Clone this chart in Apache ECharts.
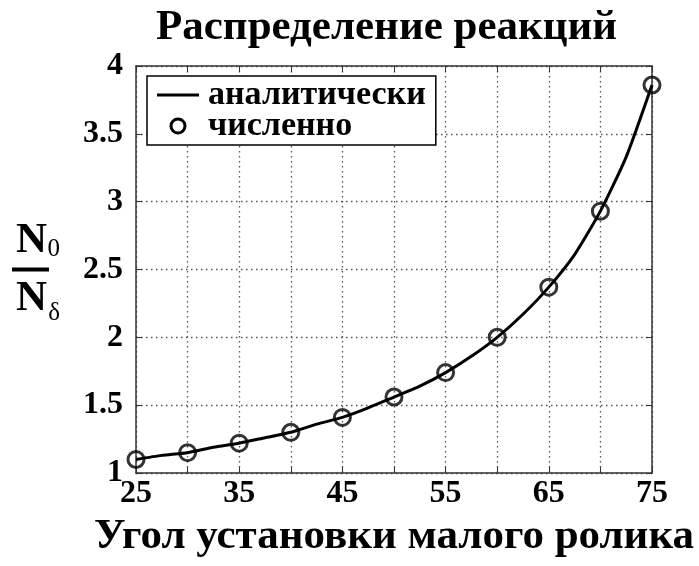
<!DOCTYPE html>
<html>
<head>
<meta charset="utf-8">
<script src="https://cdn.jsdelivr.net/npm/echarts@6/dist/echarts.min.js"></script>
<style>
  html, body { margin: 0; padding: 0; background: #fff; }
  #main { width: 699px; height: 566px; }
</style>
</head>
<body>
<div id="main"></div>
<script>
// углы (град) и отношение N0/Nδ
var anglesNum = [25, 30, 35, 40, 45, 50, 55, 60, 65, 70, 75];
var valuesNum = [1.10, 1.15, 1.22, 1.30, 1.41, 1.56, 1.74, 2.00, 2.37, 2.93, 3.86];
var anglesAn = [25, 27.5, 30, 32.5, 35, 37.5, 40, 42.5, 45, 47.5, 50, 52.5, 55, 57.5, 60, 62.5, 65, 67.5, 70, 72.5, 75];
var valuesAn = [1.10, 1.13, 1.15, 1.19, 1.22, 1.26, 1.30, 1.36, 1.41, 1.48, 1.56, 1.64, 1.74, 1.86, 2.00, 2.17, 2.37, 2.61, 2.93, 3.33, 3.86];
var xTicks = [25, 35, 45, 55, 65, 75];
var seriesNames = ['аналитически', 'численно'];

(function () {
  var dom = document.getElementById('main');
  var myChart = echarts.init(dom);
  var serif = "'Liberation Serif', 'Times New Roman', serif";
  var axisCol = '#333';

  function pairs(xs, ys) {
    var out = [];
    for (var i = 0; i < xs.length; i++) out.push([xs[i], ys[i]]);
    return out;
  }

  var gridDot = { show: true, lineStyle: { color: '#555', width: 1.3, type: [1.5, 3.5] } };

  var option = {
    backgroundColor: '#fff',
    animation: false,
    title: {
      text: 'Распределение реакций',
      left: 151,
      top: 1,
      textStyle: { fontFamily: serif, fontWeight: 'bold', fontSize: 43, color: '#000' }
    },
    legend: {
      orient: 'vertical',
      left: 147,
      top: 76,
      padding: [2, 10, 2, 10],
      itemGap: -3,
      itemWidth: 42,
      itemHeight: 14,
      borderColor: '#000',
      borderWidth: 1.5,
      backgroundColor: '#fff',
      data: [
        { name: seriesNames[0], icon: 'path://M0,0H42V3H0Z', itemStyle: { color: '#000' } },
        { name: seriesNames[1], icon: 'circle', itemStyle: { color: 'rgba(0,0,0,0)', borderColor: '#000', borderWidth: 3, opacity: 1 } }
      ],
      textStyle: { fontFamily: serif, fontWeight: 'bold', fontSize: 34, color: '#000', lineHeight: 26, padding: [0, 0, 0, 4] }
    },
    grid: { left: 136, right: 47, top: 66, bottom: 93 },
    xAxis: [
      {
        type: 'value',
        min: 25, max: 75, interval: 5,
        name: 'Угол установки малого ролика',
        nameLocation: 'middle',
        nameGap: 39,
        nameTextStyle: { fontFamily: serif, fontWeight: 'bold', fontSize: 43, color: '#000' },
        axisLine: { lineStyle: { color: axisCol, width: 1.5 } },
        axisTick: { inside: true, length: 6, lineStyle: { color: axisCol } },
        axisLabel: {
          margin: 5,
          fontFamily: serif, fontWeight: 'bold', fontSize: 32, color: '#000',
          formatter: function (v) { return xTicks.indexOf(v) >= 0 ? String(v) : ''; }
        },
        splitLine: gridDot
      },
      {
        type: 'value', position: 'top',
        min: 25, max: 75, interval: 5,
        axisLine: { lineStyle: { color: axisCol, width: 1.5 } },
        axisTick: { inside: true, length: 6, lineStyle: { color: axisCol } },
        axisLabel: { show: false },
        splitLine: { show: false }
      }
    ],
    yAxis: [
      {
        type: 'value',
        min: 1, max: 4, interval: 0.5,
        name: '{n|N}{s|0}\n{bar| }{sp| }\n{n|N}{d|δ}',
        nameLocation: 'middle',
        nameRotate: 0,
        nameGap: 76,
        nameTextStyle: {
          align: 'right',
          rich: {
            n: { fontFamily: serif, fontWeight: 'bold', fontSize: 43, color: '#000', lineHeight: 42, width: 32 },
            s: { fontFamily: serif, fontSize: 25, color: '#000', lineHeight: 42, width: 13, verticalAlign: 'bottom' },
            d: { fontFamily: serif, fontSize: 25, color: '#000', lineHeight: 42, width: 13, verticalAlign: 'bottom', padding: [0, 0, -6, 0] },
            bar: { width: 37, height: 4, lineHeight: 16, backgroundColor: '#000' },
            sp: { width: 11, lineHeight: 16 }
          }
        },
        axisLine: { lineStyle: { color: axisCol, width: 1.5 } },
        axisTick: { inside: true, length: 6, lineStyle: { color: axisCol } },
        axisLabel: { margin: 13, fontFamily: serif, fontWeight: 'bold', fontSize: 32, color: '#000' },
        splitLine: gridDot
      },
      {
        type: 'value', position: 'right',
        min: 1, max: 4, interval: 0.5,
        axisLine: { show: true, lineStyle: { color: axisCol, width: 1.5 } },
        axisTick: { show: true, inside: true, length: 6, lineStyle: { color: axisCol } },
        axisLabel: { show: false },
        splitLine: { show: false }
      }
    ],
    series: [
      {
        name: seriesNames[0],
        type: 'line',
        data: pairs(anglesAn, valuesAn),
        smooth: 0.2,
        showSymbol: false,
        symbol: 'none',
        lineStyle: { color: '#000', width: 3 },
        itemStyle: { color: '#000' },
        z: 2
      },
      {
        name: seriesNames[1],
        type: 'scatter',
        data: pairs(anglesNum, valuesNum),
        symbol: 'circle',
        symbolSize: 16,
        itemStyle: { color: 'rgba(0,0,0,0)', borderColor: '#000', borderWidth: 3 },
        z: 3
      }
    ]
  };

  myChart.setOption(option, true);
})();
</script>
</body>
</html>
